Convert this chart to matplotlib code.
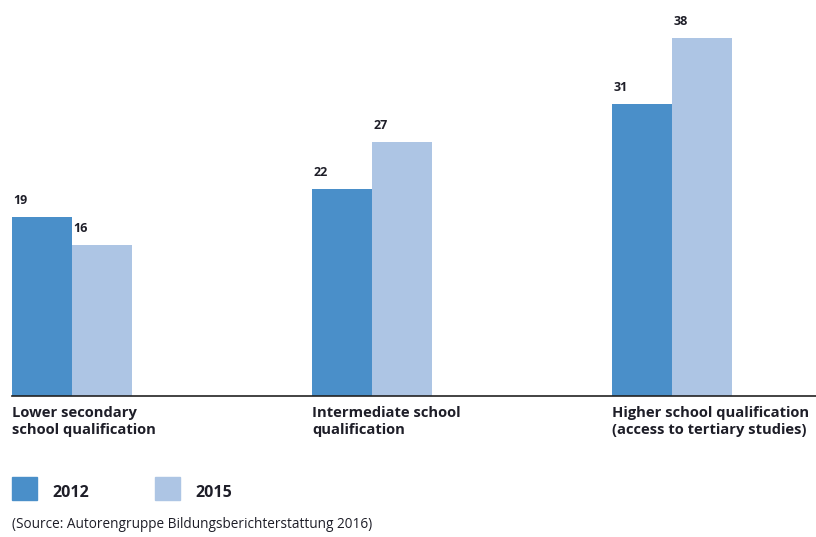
import numpy as np
import matplotlib
matplotlib.use("Agg")
import matplotlib.pyplot as plt
from matplotlib.patches import Rectangle

# Data
categories = ["Lower secondary\nschool qualification",
              "Intermediate school\nqualification",
              "Higher school qualification\n(access to tertiary studies)"]
years = ["2012", "2015"]
values_2012 = [19, 22, 31]
values_2015 = [16, 27, 38]
source = "(Source: Autorengruppe Bildungsberichterstattung 2016)"

c2012 = "#4a8fc9"
c2015 = "#adc5e4"
txt = "#1e1e28"
plt.rcParams['font.family'] = ['Open Sans', 'DejaVu Sans']

W, H = 816, 537
fig = plt.figure(figsize=(W / 100, H / 100), dpi=100)

# axes: left edge at 12px, baseline at y=396px (from top), top at 19px
ax = fig.add_axes([12 / W, (H - 396) / H, (W - 12) / W, (396 - 19) / H])
x = np.arange(len(categories))
bw = 0.2
b1 = ax.bar(x - bw / 2, values_2012, bw, color=c2012)
b2 = ax.bar(x + bw / 2, values_2015, bw, color=c2015)
ax.set_xlim(-0.2, 2.48)
ax.set_ylim(0, 40)

for bars in (b1, b2):
    for r in bars:
        ax.annotate(f"{r.get_height():.0f}", (r.get_x(), r.get_height()),
                    xytext=(1, 7), textcoords="offset points",
                    ha="left", va="bottom", fontsize=9, fontweight="bold",
                    color=txt)

for s in ["top", "right", "left"]:
    ax.spines[s].set_visible(False)
ax.spines["bottom"].set_color("#222222")
ax.spines["bottom"].set_linewidth(1.2)
ax.set_xticks([])
ax.set_yticks([])

# category labels under the baseline, left aligned with the group
for xi, lab in zip(x, categories):
    ax.annotate(lab, (xi - bw, 0), xytext=(0, -7), textcoords="offset points",
                ha="left", va="top", fontsize=10.6, fontweight="bold",
                color=txt, linespacing=1.3)

# legend drawn by hand
for px, lab, col in [(12, years[0], c2012), (155, years[1], c2015)]:
    fig.patches.append(Rectangle((px / W, (H - 500) / H), 25 / W, 23 / H,
                                 transform=fig.transFigure, color=col))
    fig.text((px + 40) / W, (H - 493) / H, lab, ha="left", va="center",
             fontsize=11.5, fontweight="bold", color=txt)

fig.text(12 / W, (H - 525) / H, source, ha="left", va="center",
         fontsize=9.8, color=txt)

fig.savefig("out.png", dpi=100)
